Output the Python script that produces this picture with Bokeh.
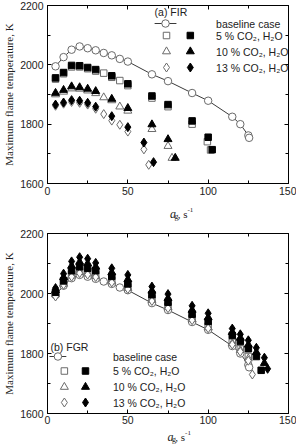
from bokeh.plotting import figure
from bokeh.layouts import column
from bokeh.models import Range1d, FixedTicker, LinearAxis, Label
from bokeh.core.properties import value
from bokeh.embed import file_html
from bokeh.resources import INLINE

# ---- axis ticks ----
x_ticks = [0, 50, 100, 150]
x_minor = [25, 75, 125]
y_ticks = [1600, 1800, 2000, 2200]
y_minor = [1700, 1900, 2100]

# ---- baseline case (identical in both panels) ----
base_x = [5, 10, 15, 20, 25, 30, 35, 40, 45, 50, 65, 75, 90, 100, 115, 120, 125, 125.5]
base_t = [1995, 2026, 2051, 2062, 2056, 2049, 2040, 2032, 2020, 2011, 1968, 1945, 1905, 1879, 1825, 1800, 1762, 1754]

# ---- (a) FIR ----
fir5_open_x = [5, 10, 15, 20, 25, 30, 35, 40, 45, 50, 65, 75, 90, 99.5, 101.5]
fir5_open_t = [1952, 1970, 1993, 1993, 1987, 1979, 1972, 1958, 1947, 1930, 1888, 1859, 1800, 1741, 1713]
fir5_fill_x = [5, 10, 15, 20, 25, 30, 40, 50, 65, 75, 90, 100, 102.5]
fir5_fill_t = [1956, 1974, 1998, 1997, 1991, 1984, 1963, 1936, 1895, 1866, 1811, 1756, 1714]
fir10_open_x = [5, 10, 15, 20, 25, 30, 35, 40, 45, 50, 65, 75, 77.5]
fir10_open_t = [1900, 1909, 1920, 1919, 1913, 1904, 1890, 1880, 1859, 1845, 1783, 1726, 1686]
fir10_fill_x = [5, 10, 15, 20, 25, 30, 40, 50, 65, 75, 79.5]
fir10_fill_t = [1905, 1915, 1927, 1924, 1919, 1911, 1885, 1854, 1799, 1749, 1686]
fir13_open_x = [5, 10, 15, 20, 25, 30, 35, 40, 45, 50, 60, 63]
fir13_open_t = [1862, 1869, 1875, 1872, 1866, 1852, 1834, 1812, 1798, 1775, 1715, 1663]
fir13_fill_x = [5, 10, 15, 20, 25, 30, 40, 50, 60, 66]
fir13_fill_t = [1866, 1873, 1881, 1879, 1872, 1859, 1827, 1790, 1738, 1672]

# ---- (b) FGR ----
fgr_open_x = [5, 10, 15, 20, 25, 30, 40, 50, 65, 75, 90, 100, 115, 120, 125]
fgr5_open_t = [2000, 2036, 2064, 2076, 2071, 2063, 2045, 2022, 1983, 1958, 1918, 1891, 1838, 1815, 1790]
fgr10_open_t = [1997, 2032, 2059, 2071, 2066, 2058, 2040, 2018, 1978, 1954, 1914, 1887, 1834, 1811, 1783]
fgr13_open_x = [5, 10, 15, 20, 25, 30, 40, 50, 65, 75, 90, 100, 115, 120, 125, 127.5]
fgr13_open_t = [1990, 2029, 2056, 2068, 2063, 2055, 2037, 2015, 1975, 1951, 1911, 1884, 1830, 1806, 1776, 1730]
fgr5_fill_x = [5, 10, 15, 20, 25, 30, 40, 50, 65, 75, 90, 100, 115, 120, 125, 130, 133]
fgr5_fill_t = [2004, 2042, 2076, 2089, 2084, 2076, 2057, 2032, 1996, 1971, 1931, 1907, 1860, 1840, 1816, 1790, 1744]
fgr10_fill_x = [5, 10, 15, 20, 25, 30, 40, 50, 65, 75, 90, 100, 115, 120, 125, 130, 135]
fgr10_fill_t = [2011, 2054, 2092, 2105, 2100, 2089, 2070, 2047, 2009, 1984, 1945, 1920, 1871, 1852, 1829, 1804, 1768]
fgr13_fill_x = [5, 10, 15, 20, 25, 30, 40, 50, 65, 75, 90, 100, 115, 120, 125, 130, 135, 137]
fgr13_fill_t = [2018, 2066, 2107, 2121, 2116, 2102, 2084, 2062, 2023, 1998, 1959, 1934, 1883, 1864, 1844, 1819, 1786, 1749]

legend_labels = ["baseline case", "5 % CO₂, H₂O", "10 % CO₂, H₂O", "13 % CO₂, H₂O"]

SANS = "Liberation Sans"
SERIF = "Liberation Serif"
OPEN_C = "#6a6a6a"
TEXT_C = "#222222"
MARKERS = ["square", "triangle", "diamond"]
SIZES = {"circle": 7.5, "square": 6.5, "triangle": 8, "diamond": 9}


def open_pts(p, x, y, marker):
    p.scatter(x, y, marker=marker, size=SIZES[marker], fill_color="white",
              line_color=OPEN_C, line_width=1)


def fill_pts(p, x, y, marker):
    p.scatter(x, y, marker=marker, size=SIZES[marker], fill_color="black",
              line_color="black", line_width=1)


def panel(fig_h, top, bottom, open_series, fill_series, tag, lay, standoff=3):
    frame_h = fig_h - top - bottom
    p = figure(width=296, height=fig_h, x_range=Range1d(0, 150), y_range=Range1d(1600, 2200),
               output_backend="svg", toolbar_location=None,
               min_border_left=45, min_border_right=8, min_border_top=top, min_border_bottom=bottom)
    p.grid.visible = False
    p.outline_line_color = "black"
    p.outline_line_width = 1
    p.background_fill_color = "white"
    p.border_fill_color = "white"

    for ax, tk, mn in ((p.xaxis[0], x_ticks, x_minor), (p.yaxis[0], y_ticks, y_minor)):
        ax.ticker = FixedTicker(ticks=tk, minor_ticks=mn)
        ax.major_tick_in = 4
        ax.major_tick_out = 0
        ax.minor_tick_in = 3
        ax.minor_tick_out = 0
        ax.axis_line_color = "black"
        ax.major_label_text_font = SANS
        ax.major_label_text_font_size = "10.5px"
        ax.major_label_text_color = TEXT_C
        ax.major_label_standoff = 4
    p.yaxis.axis_label = "Maximum flame temperature, K"
    p.yaxis.axis_label_text_font = SERIF
    p.yaxis.axis_label_text_font_size = "11px"
    p.yaxis.axis_label_text_font_style = "normal"
    p.yaxis.axis_label_text_color = TEXT_C
    p.yaxis.axis_label_standoff = 2
    p.xaxis.major_label_standoff = standoff

    # tick marks on the opposite sides, without labels
    for loc, tk, mn in (("right", y_ticks, y_minor), ("above", x_ticks, x_minor)):
        ax = LinearAxis(ticker=FixedTicker(ticks=tk, minor_ticks=mn),
                        major_label_text_font_size="0px", major_label_text_color=None,
                        major_label_standoff=0,
                        major_tick_in=4, major_tick_out=0, minor_tick_in=3, minor_tick_out=0)
        p.add_layout(ax, loc)

    # pixel -> data helpers for legend placement inside the frame
    fx = lambda px: (px - 45) / 243 * 150
    fy = lambda py: 2200 - (py - top) / frame_h * 600

    # baseline curve
    p.line(base_x, base_t, line_color="#3a3a3a", line_width=1)
    open_pts(p, base_x, base_t, "circle")
    for (x, y), m in zip(open_series, MARKERS):
        open_pts(p, x, y, m)
    for (x, y), m in zip(fill_series, MARKERS):
        fill_pts(p, x, y, m)

    # legend
    p.add_layout(Label(x=fx(lay["tag"][0]), y=fy(lay["tag"][1]), text=tag, text_font=SANS,
                       text_font_size="10.5px", text_baseline="middle", text_color=TEXT_C))
    lx0, lx1, lxm = lay["line"]
    rows = lay["rows"]
    p.line([fx(lx0), fx(lx1)], [fy(rows[0])] * 2, line_color="#3a3a3a", line_width=1)
    open_pts(p, [fx(lxm)], [fy(rows[0])], "circle")
    for r, m in zip(rows[1:], MARKERS):
        open_pts(p, [fx(lay["open"])], [fy(r)], m)
        fill_pts(p, [fx(lay["fill"])], [fy(r)], m)
    for r, t in zip(rows, legend_labels):
        p.add_layout(Label(x=fx(lay["text"]), y=fy(r), text=t, text_font=SANS,
                           text_font_size="10.5px", text_baseline="middle", text_color=TEXT_C))
    return p


def xtitle(h, x0, yc):
    """Strip under a panel holding the x-axis title a_g, s^-1 (pixel coordinates)."""
    s = figure(width=296, height=h, x_range=Range1d(0, 296), y_range=Range1d(h, 0),
               output_backend="svg", toolbar_location=None, min_border=0,
               x_axis_type=None, y_axis_type=None)
    s.grid.visible = False
    s.outline_line_color = None
    parts = [("a", 0, 0, "12px", "italic", "center"),
             ("g", 4.5, 3, "8px", "normal", "center"),
             (", s", 6, 0, "11px", "normal", "left"),
             ("-1", 18, -4, "7px", "normal", "left")]
    for t, dx, dy, fs, st, al in parts:
        s.text(x=[x0 + dx], y=[yc + dy], text=[t], text_font=value(SERIF),
               text_font_size=value(fs), text_font_style=st, text_align=al,
               text_baseline="middle", text_color=TEXT_C)
    return s


p1 = panel(200, 5, 17,
           [(fir5_open_x, fir5_open_t), (fir10_open_x, fir10_open_t), (fir13_open_x, fir13_open_t)],
           [(fir5_fill_x, fir5_fill_t), (fir10_fill_x, fir10_fill_t), (fir13_fill_x, fir13_fill_t)],
           "(a) FIR",
           dict(tag=(153, 11), line=(153, 175, 164), rows=[23, 35, 51, 67],
                open=165, fill=189, text=215))
s1 = xtitle(22, 154, 13)

p2 = panel(205, 11, 14,
           [(fgr_open_x, fgr5_open_t), (fgr_open_x, fgr10_open_t), (fgr13_open_x, fgr13_open_t)],
           [(fgr5_fill_x, fgr5_fill_t), (fgr10_fill_x, fgr10_fill_t), (fgr13_fill_x, fgr13_fill_t)],
           "(b) FGR",
           dict(tag=(48, 124), line=(47, 64, 55.5), rows=[134, 148.5, 164.5, 180],
                open=62, fill=83.3, text=111), standoff=2)
s2 = xtitle(17, 151, 9)

layout = column(p1, s1, p2, s2)
open("out.html", "w").write(file_html(layout, INLINE))
